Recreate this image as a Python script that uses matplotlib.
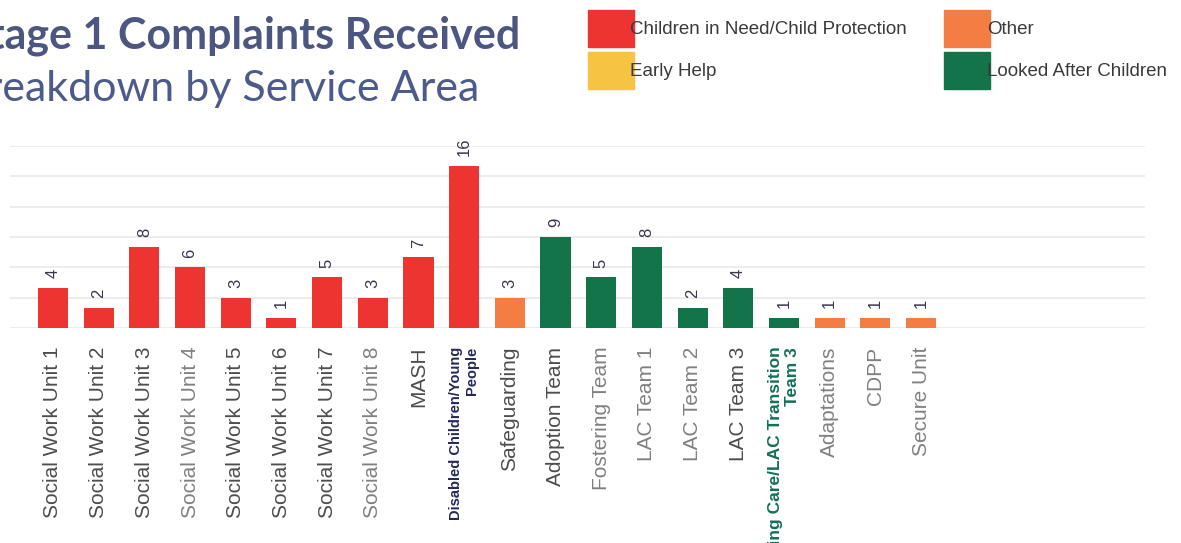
import matplotlib.pyplot as plt
import numpy as np
from matplotlib.patches import Patch

plt.rcParams['font.family'] = ['Liberation Sans', 'DejaVu Sans']

services = [
    "Social Work Unit 1", "Social Work Unit 2", "Social Work Unit 3",
    "Social Work Unit 4", "Social Work Unit 5", "Social Work Unit 6",
    "Social Work Unit 7", "Social Work Unit 8", "MASH",
    "Disabled Children/Young\nPeople", "Safeguarding", "Adoption Team",
    "Fostering Team", "LAC Team 1", "LAC Team 2", "LAC Team 3",
    "Leaving Care/LAC Transition\nTeam 3", "Adaptations", "CDPP", "Secure Unit",
]
complaints = [4, 2, 8, 6, 3, 1, 5, 3, 7, 16, 3, 9, 5, 8, 2, 4, 1, 1, 1, 1]
area = ["cin"] * 10 + ["other"] + ["lac"] * 6 + ["other"] * 3

legend_order = ["cin", "early", "other", "lac"]
legend_names = {
    "cin": "Children in Need/Child Protection",
    "early": "Early Help",
    "other": "Other",
    "lac": "Looked After Children",
}
colours = {"cin": "#ee3430", "early": "#f6c343", "other": "#f47d42", "lac": "#137449"}

fig = plt.figure(figsize=(11.81, 5.43), dpi=100)
ax = fig.add_axes([10 / 1181, 1 - 328 / 543, 1135 / 1181, 182 / 543])

x = np.arange(len(services))
bars = ax.bar(x, complaints, width=0.66, color=[colours[a] for a in area], zorder=2)
ax.bar_label(bars, padding=7, rotation=90, fontsize=12, color="#3b3550")

ax.set_xlim(-0.94, 23.9)
ax.set_ylim(0, 17.6)
ax.set_yticks(range(0, 19, 3))
ax.yaxis.grid(True, color="#ececec", lw=1.4, zorder=0)
ax.tick_params(left=False, bottom=False, labelleft=False, pad=10)
for s in ax.spines.values():
    s.set_visible(False)

ax.set_xticks(x)
ax.set_xticklabels(services, rotation=90, fontsize=15, ma="right", color="#4d4d4d")
lbls = ax.get_xticklabels()
lbls[9].set_color("#26285a")
lbls[9].set_fontweight("bold")
lbls[9].set_fontsize(10.5)
lbls[16].set_color("#13705a")
lbls[16].set_fontweight("bold")
lbls[16].set_fontsize(12.5)
for i in (3, 7, 12, 13, 14, 17, 18, 19):
    lbls[i].set_color("#808080")

# titles, with the first letter running off the left edge
fig.text(520 / 1181, 1 - 48 / 543, "Stage 1 Complaints Received", ha="right",
         fontsize=31, fontweight="bold", color="#4c5680", family="Lato")
fig.text(479 / 1181, 1 - 101 / 543, "Breakdown by Service Area", ha="right",
         fontsize=31, color="#4c5a8c", family="Lato")

handles = [Patch(color=colours[k]) for k in legend_order]
fig.legend(handles, [legend_names[k] for k in legend_order], ncol=2,
           loc="upper left", bbox_to_anchor=(588 / 1181, 1 - 10 / 543),
           borderaxespad=0, borderpad=0,
           frameon=False, fontsize=13.5, handlelength=2.45, handleheight=2.65,
           handletextpad=-0.2, columnspacing=2.0, labelspacing=0.27,
           labelcolor="#3a3a3a")

fig.savefig("out.png", dpi=100)
